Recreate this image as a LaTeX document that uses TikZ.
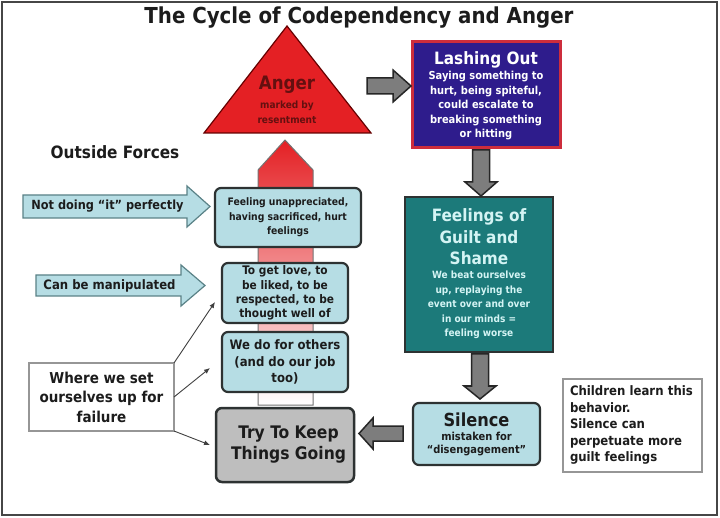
\documentclass[tikz,border=0pt]{standalone}
\usepackage{fontspec}
\setmainfont{DejaVu Sans Condensed}
\usetikzlibrary{arrows.meta}
\definecolor{framegray}{RGB}{70,70,70}
\definecolor{angerred}{RGB}{228,32,36}
\definecolor{angertext}{RGB}{100,16,16}
\definecolor{pinkmid}{RGB}{242,150,150}
\definecolor{lashblue}{RGB}{46,28,140}
\definecolor{lashborder}{RGB}{205,45,60}
\definecolor{guiltteal}{RGB}{28,122,122}
\definecolor{guilttext}{RGB}{212,244,244}
\definecolor{lightboxc}{RGB}{182,221,228}
\definecolor{boxborder}{RGB}{45,50,50}
\definecolor{trygray}{RGB}{190,190,190}
\definecolor{blockgray}{RGB}{125,125,125}
\definecolor{forceborder}{RGB}{90,130,135}
\definecolor{textdark}{RGB}{28,28,28}
\definecolor{thingray}{RGB}{150,150,150}
\begin{document}
\begin{tikzpicture}[x=1pt,y=-1pt,
  every node/.style={inner sep=0pt, outer sep=0pt, text=textdark},
  lightbox/.style={rounded corners=6, fill=lightboxc, draw=boxborder, line width=2.2, align=center},
  plainbox/.style={fill=white, draw=thingray, line width=1.2},
  blockarrow/.style={fill=blockgray, draw=black!85, line width=1.5, line join=miter},
  forcearrow/.style={fill=lightboxc, draw=forceborder, line width=1.2},
  thinarrow/.style={draw=black!75, line width=0.9, -{Latex[length=6pt,width=5pt]}},
  fs/.style 2 args={font=\bfseries\fontsize{#1}{#2}\selectfont}
]
\useasboundingbox (0,0) rectangle (720,518);
\fill[white] (0,0) rectangle (720,518);
\draw[framegray, line width=2] (2,2) rectangle (717,515);

% title
\node[fs={22}{26}] (title) at (359,18) {The Cycle of Codependency and Anger};

% central rising arrow
\shadedraw[top color=angerred, middle color=pinkmid, bottom color=white, draw=black!55, line width=1]
  (285,140) -- (313,170) -- (313,405) -- (258,405) -- (258,170) -- cycle;

% anger triangle
\draw[fill=angerred, draw=black!60!red, line width=1.2] (287,26) -- (371,133) -- (204,133) -- cycle;
\node[fs={18.5}{20}, text=angertext] (angerT) at (287,85) {Anger};
\node[fs={10}{14.5}, text=angertext, align=center] (angerS) at (287,112.5) {marked by\\resentment};

% lashing out
\node[fill=lashblue, draw=lashborder, line width=3, minimum width=148, minimum height=106] (lash) at (486,95) {};
\node[fs={17}{18}, text=white] (lashT) at (486,60) {Lashing Out};
\node[fs={11}{14.5}, text=white, align=center] (lashB) at (486,106) {Saying something to\\hurt, being spiteful,\\could escalate to\\breaking something\\or hitting};

% guilt
\node[fill=guiltteal, draw=boxborder, line width=2.2, minimum width=148, minimum height=155] (guilt) at (479,274.5) {};
\node[fs={17}{21.5}, text=guilttext, align=center] (guiltT) at (479,237) {Feelings of\\Guilt and\\Shame};
\node[fs={10}{14.5}, text=guilttext, align=center] (guiltB) at (479,305) {We beat ourselves\\up, replaying the\\event over and over\\in our minds =\\feeling worse};

% silence
\node[lightbox, minimum width=127, minimum height=62] (silence) at (476.5,434) {};
\node[fs={18}{20}] (silenceT) at (476.5,420) {Silence};
\node[fs={11}{13}, align=center] (silenceB) at (476.5,444.5) {mistaken for\\“disengagement”};

% children
\node[plainbox, minimum width=139, minimum height=93] (children) at (632.5,425.5) {};
\node[fs={13}{16.5}, align=left, text width=125] (childrenT) at (632.5,425) {Children learn this\\behavior.\\Silence can\\perpetuate more\\guilt feelings};

% left column boxes
\node[lightbox, minimum width=146, minimum height=59, fs={10.3}{14.5}] (unapp) at (288,217.5) {Feeling unappreciated,\\having sacrificed, hurt\\feelings};
\node[lightbox, minimum width=126, minimum height=60, fs={11.8}{14.2}] (love) at (285,293) {To get love, to\\be liked, to be\\respected, to be\\thought well of};
\node[lightbox, minimum width=126, minimum height=60, fs={13}{16.5}] (wedo) at (285,362) {We do for others\\(and do our job\\too)};
\node[lightbox, fill=trygray, line width=2.5, minimum width=138, minimum height=74] (try) at (285,445) {};
\node[fs={17.3}{21}, align=center] (tryT) at (288.5,445) {Try To Keep\\Things Going};

% where box
\node[plainbox, minimum width=145, minimum height=68, align=center, fs={15}{19.5}] (where) at (101.5,397) {Where we set\\ourselves up for\\failure};

% outside forces
\node[fs={17}{18}] (outside) at (115,152) {Outside Forces};
\draw[forcearrow] (23,195) -- (187,195) -- (187,186) -- (210,206.5) -- (187,227) -- (187,218) -- (23,218) -- cycle;
\node[fs={12.6}{14}] (notdoing) at (107.5,206.5) {Not doing “it” perfectly};
\draw[forcearrow] (36,275) -- (181,275) -- (181,265) -- (205,285.5) -- (181,306) -- (181,296) -- (36,296) -- cycle;
\node[fs={13}{14}] (manip) at (109.5,285.5) {Can be manipulated};

% gray block arrows
\draw[blockarrow] (367,78) -- (393,78) -- (393,70) -- (411,86) -- (393,102) -- (393,94) -- (367,94) -- cycle;
\draw[blockarrow] (472.5,150) -- (489.5,150) -- (489.5,182) -- (497,182) -- (481,196) -- (465,182) -- (472.5,182) -- cycle;
\draw[blockarrow] (471.5,354) -- (488.5,354) -- (488.5,386) -- (496,386) -- (480,399) -- (464,386) -- (471.5,386) -- cycle;
\draw[blockarrow] (403,426) -- (373,426) -- (373,418) -- (359,433.5) -- (373,449) -- (373,441) -- (403,441) -- cycle;

% thin arrows
\coordinate (t1) at (215,302);
\coordinate (t2) at (210,368);
\coordinate (t3) at (210,445);
\draw[thinarrow] (where.north east) -- (t1);
\draw[thinarrow] (where.east) -- (t2);
\draw[thinarrow] (where.south east) -- (t3);
\end{tikzpicture}
\end{document}
